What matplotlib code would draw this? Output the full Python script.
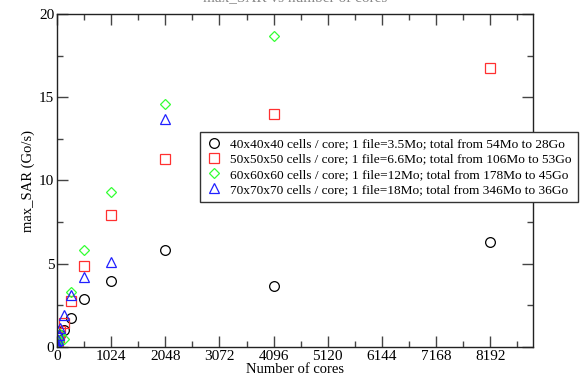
import matplotlib
matplotlib.use("Agg")
import matplotlib.pyplot as plt
from matplotlib.ticker import MultipleLocator

plt.rcParams['font.family'] = ['Liberation Serif', 'DejaVu Serif']

cores_40 = [1, 2, 4, 8, 16, 32, 64, 128, 256, 512, 1024, 2048, 4096, 8192]
sar_40 = [0.02, 0.05, 0.1, 0.2, 0.3, 0.45, 0.7, 1.05, 1.75, 2.9, 3.95, 5.8, 3.65, 6.3]
cores_50 = [1, 2, 4, 8, 16, 32, 64, 128, 256, 512, 1024, 2048, 4096, 8192]
sar_50 = [0.03, 0.06, 0.12, 0.2, 0.35, 0.6, 0.95, 1.45, 2.75, 4.85, 7.9, 11.3, 14.0, 16.75]
cores_60 = [1, 2, 4, 8, 16, 32, 64, 128, 256, 512, 1024, 2048, 4096]
sar_60 = [0.03, 0.06, 0.1, 0.2, 0.3, 0.45, 0.8, 0.5, 3.3, 5.8, 9.3, 14.6, 18.65]
cores_70 = [1, 2, 4, 8, 16, 32, 64, 128, 256, 512, 1024, 2048]
sar_70 = [0.03, 0.07, 0.13, 0.25, 0.4, 0.7, 1.15, 1.9, 3.1, 4.2, 5.1, 13.7]

labels = [
    "40x40x40 cells / core; 1 file=3.5Mo; total from 54Mo to 28Go",
    "50x50x50 cells / core; 1 file=6.6Mo; total from 106Mo to 53Go",
    "60x60x60 cells / core; 1 file=12Mo; total from 178Mo to 45Go",
    "70x70x70 cells / core; 1 file=18Mo; total from 346Mo to 36Go",
]
xticks = [0, 1024, 2048, 3072, 4096, 5120, 6144, 7168, 8192]

fig = plt.figure(figsize=(5.85, 3.78), dpi=100)
ax = fig.add_axes([57/585, 1-347/378, (533-57)/585, (347-14)/378])

series = [(cores_40, sar_40, 'o', 'black'),
          (cores_50, sar_50, 's', '#ff3030'),
          (cores_60, sar_60, 'D', '#33ff33'),
          (cores_70, sar_70, '^', '#2020ff')]
for (xs, ys, m, c), lab in zip(series, labels):
    ms = 5.5 if m == 'D' else 7
    ax.plot(xs, ys, linestyle='none', marker=m, markersize=ms, markerfacecolor='none',
            markeredgecolor=c, markeredgewidth=0.9, label=lab)

ax.set_xlim(0, 9000)
ax.set_ylim(0, 20)
ax.set_xticks(xticks)
ax.xaxis.set_minor_locator(MultipleLocator(512))
ax.yaxis.set_major_locator(MultipleLocator(5))
ax.yaxis.set_minor_locator(MultipleLocator(2.5))
ax.tick_params(which='both', direction='in', top=True, right=True, labelsize=11, color='#444444')
ax.tick_params(which='major', length=8, width=1, pad=2)
ax.tick_params(which='minor', length=4, width=1)
for s in ax.spines.values():
    s.set_linewidth(1)
    s.set_color('#222222')

ax.set_xlabel("Number of cores", fontsize=10.5, labelpad=0)
ax.set_ylabel("max_SAR (Go/s)", fontsize=10.5, labelpad=3)
fig.text(0.505, 1.003, "max_SAR vs number of cores", ha='center', va='center', fontsize=11, color='#888888')

leg = ax.legend(loc='upper left', bbox_to_anchor=(200/585, 1-132/378), bbox_transform=fig.transFigure,
                borderaxespad=0, fontsize=9.6, fancybox=False, framealpha=1, edgecolor='#333333',
                handletextpad=0.6, borderpad=0.45, labelspacing=0.22, handlelength=1.2)
leg.get_frame().set_linewidth(1)

fig.savefig("out.png", dpi=100)
